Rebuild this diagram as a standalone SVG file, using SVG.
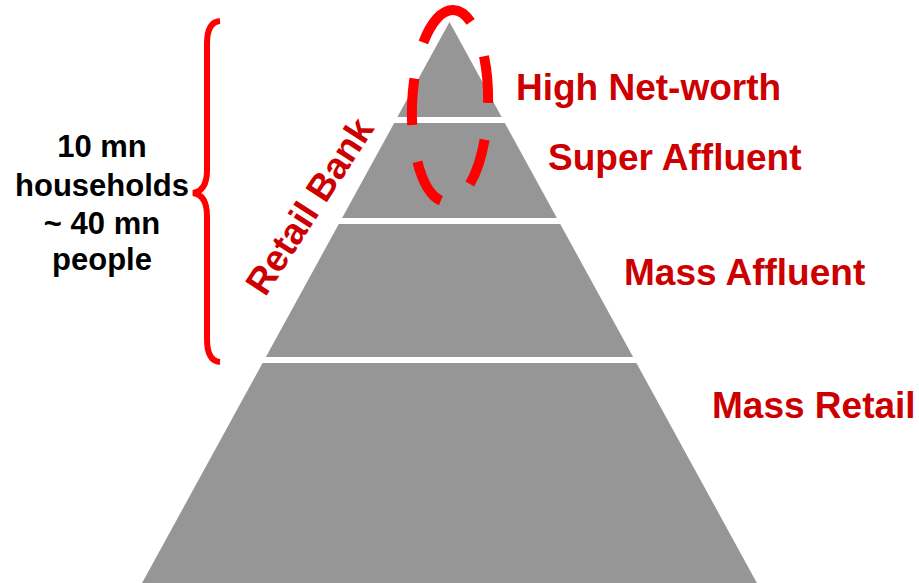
<svg xmlns="http://www.w3.org/2000/svg" width="919" height="583" viewBox="0 0 919 583">
  <style>
    .tier { fill: #969696; }
    .lbl { font-family: "Liberation Sans", Arial, sans-serif; font-weight: bold; font-size: 37px; fill: #CC0000; }
    .side { font-family: "Liberation Sans", Arial, sans-serif; font-weight: bold; font-size: 31px; fill: #000000; text-anchor: middle; }
    .red { fill: none; stroke: #FF0000; }
  </style>
  <rect width="919" height="583" fill="#FFFFFF"/>
  <g id="tier-high-net-worth">
    <polygon class="tier" points="449.5,22 501.6,117 397.4,117"/>
    <text class="lbl" x="516" y="100">High Net-worth</text>
  </g>
  <g id="tier-super-affluent">
    <polygon class="tier" points="394.2,123 504.8,123 556.9,218 342.1,218"/>
    <text class="lbl" x="548" y="170">Super Affluent</text>
  </g>
  <g id="tier-mass-affluent">
    <polygon class="tier" points="338.8,224 560.2,224 633.1,357 265.9,357"/>
    <text class="lbl" x="624" y="285">Mass Affluent</text>
  </g>
  <g id="tier-mass-retail">
    <polygon class="tier" points="262.6,363 636.4,363 756.9,583 142.1,583"/>
    <text class="lbl" x="712" y="418">Mass Retail</text>
  </g>
  <g id="retail-bank-label">
    <text class="lbl" x="0" y="0" text-anchor="middle" transform="translate(320,213) rotate(-57)">Retail Bank</text>
  </g>
  <g id="connectors">
    <path id="brace" class="red" stroke-width="6" stroke-linecap="butt" d="M 220 21 Q 207 22 207 44 L 207 170 Q 207 191 193 193 Q 207 195 207 216 L 207 339 Q 207 361 220 362"/>
    <path id="highlight-ellipse" class="red" stroke-width="10" pathLength="442" stroke-dasharray="47 37" transform="rotate(2 450 106)" d="M 450 10 A 38 96 0 1 0 450 202 A 38 96 0 1 0 450 10 Z"/>
  </g>
  <g id="households-label">
    <text class="side" x="102" y="157">10 mn</text>
    <text class="side" x="102" y="195.5">households</text>
    <text class="side" x="102" y="234">~ 40 mn</text>
    <text class="side" x="102" y="270">people</text>
  </g>
</svg>
